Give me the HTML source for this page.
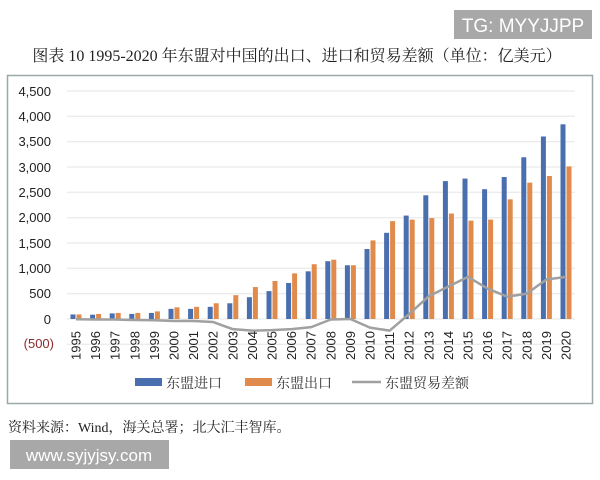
<!DOCTYPE html>
<html><head><meta charset="utf-8"><style>
body{margin:0;background:#fff;}
</style></head><body>
<svg width="600" height="480" xmlns="http://www.w3.org/2000/svg" style="display:block">
<rect x="454" y="10" width="138" height="29" fill="#a8a8a8"/>
<text x="523" y="32" font-family="Liberation Sans, sans-serif" font-size="19" fill="#fff" text-anchor="middle">TG: MYYJJPP</text>
<text x="297" y="61" font-family="Liberation Serif, 'Noto Serif CJK SC', serif" font-size="16" fill="#222" text-anchor="middle">图表 10 1995-2020 年东盟对中国的出口、进口和贸易差额（单位：亿美元）</text>
<rect x="7.5" y="75.5" width="585" height="328" fill="#fff" stroke="#9aa8a8" stroke-width="1.5"/>
<g stroke="#e6e6e6" stroke-width="1">
<line x1="67" x2="575" y1="91" y2="91"/><line x1="67" x2="575" y1="116.3" y2="116.3"/><line x1="67" x2="575" y1="141.7" y2="141.7"/><line x1="67" x2="575" y1="167" y2="167"/><line x1="67" x2="575" y1="192.3" y2="192.3"/><line x1="67" x2="575" y1="217.7" y2="217.7"/><line x1="67" x2="575" y1="243" y2="243"/><line x1="67" x2="575" y1="268.3" y2="268.3"/><line x1="67" x2="575" y1="293.7" y2="293.7"/><line x1="67" x2="575" y1="319" y2="319"/><line x1="67" x2="575" y1="344.3" y2="344.3"/>
</g>
<g font-family="Liberation Sans, sans-serif" font-size="13" fill="#222" text-anchor="end">
<text x="51" y="96">4,500</text><text x="51" y="121">4,000</text><text x="51" y="146">3,500</text><text x="51" y="172">3,000</text><text x="51" y="197">2,500</text><text x="51" y="222">2,000</text><text x="51" y="248">1,500</text><text x="51" y="273">1,000</text><text x="51" y="298">500</text><text x="51" y="324">0</text><text x="54" y="348" fill="#8b2a2a">(500)</text>
</g>
<g id="bars"></g>
<polyline id="ln" fill="none" stroke="#a0a0a0" stroke-width="2.5" stroke-linejoin="round"/>
<g id="yrs" font-family="Liberation Sans, sans-serif" font-size="13" fill="#222"></g>
<rect x="135" y="378" width="27" height="8" fill="#4a6fae"/>
<text x="166" y="388" font-family="'Noto Serif CJK SC', serif" font-size="14" fill="#333">东盟进口</text>
<rect x="245" y="378" width="27" height="8" fill="#e08a4c"/>
<text x="276" y="388" font-family="'Noto Serif CJK SC', serif" font-size="14" fill="#333">东盟出口</text>
<line x1="352" x2="381" y1="382" y2="382" stroke="#a0a0a0" stroke-width="2.5"/>
<text x="385" y="388" font-family="'Noto Serif CJK SC', serif" font-size="14" fill="#333">东盟贸易差额</text>
<text x="8" y="432" font-family="Liberation Serif, 'Noto Serif CJK SC', serif" font-size="14" fill="#222">资料来源：Wind，海关总署；北大汇丰智库。</text>
<rect x="10" y="440" width="159" height="29" fill="#a8a8a8"/>
<text x="89" y="461" font-family="Liberation Sans, sans-serif" font-size="17" fill="#fff" text-anchor="middle">www.syjyjsy.com</text>
</svg>
<script>
var im=[90,85,110,100,120,200,200,240,310,430,550,710,940,1140,1060,1380,1700,2040,2440,2720,2770,2560,2800,3190,3600,3840];
var ex=[90,100,120,120,150,230,240,310,470,630,750,900,1080,1170,1060,1550,1930,1960,1990,2080,1940,1960,2360,2690,2820,3010];
var df=[-5,-10,-10,-20,-25,-40,-40,-60,-200,-230,-220,-200,-160,-10,0,-170,-230,100,450,640,830,600,440,500,780,830];
var ns="http://www.w3.org/2000/svg",b=document.getElementById('bars'),y=document.getElementById('yrs'),pts=[];
function Y(v){return 319-v*0.0507;}
for(var i=0;i<26;i++){var c=76+i*19.6;
[[im[i],c-5.5,'#4a6fae'],[ex[i],c+0.5,'#e08a4c']].forEach(function(a){var r=document.createElementNS(ns,'rect');r.setAttribute('x',a[1]);r.setAttribute('width',5);r.setAttribute('y',Y(a[0]));r.setAttribute('height',a[0]*0.0507);r.setAttribute('fill',a[2]);b.appendChild(r);});
pts.push(c+','+Y(df[i]));
var t=document.createElementNS(ns,'text');t.setAttribute('transform','translate('+(c+4.5)+',360) rotate(-90)');t.textContent=1995+i;y.appendChild(t);}
document.getElementById('ln').setAttribute('points',pts.join(' '));
</script>
</body></html>
